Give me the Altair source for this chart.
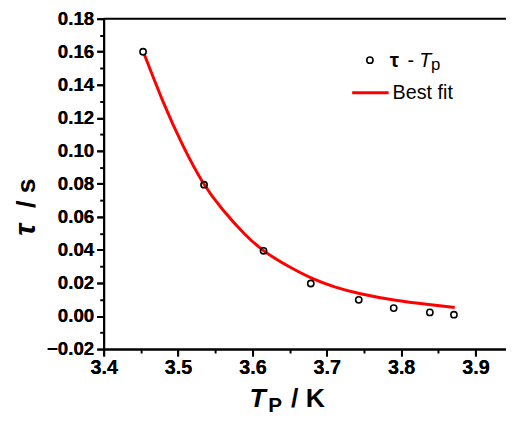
import altair as alt
import pandas as pd

# Data
tp = [3.453, 3.535, 3.615, 3.6785, 3.743, 3.790, 3.8386, 3.871]
tau = [0.160, 0.0795, 0.0395, 0.0197, 0.0098, 0.0048, 0.0022, 0.0008]

fit_x = [3.455, 3.48, 3.505, 3.533, 3.56, 3.59, 3.615, 3.648, 3.68, 3.71, 3.743, 3.79, 3.84, 3.872]
fit_y = [0.158, 0.129, 0.104, 0.080, 0.064, 0.049, 0.039, 0.030, 0.0225, 0.0175, 0.0135, 0.0095, 0.0068, 0.0052]

x_ticks = [3.4, 3.5, 3.6, 3.7, 3.8, 3.9]
x_minor = [3.45, 3.55, 3.65, 3.75, 3.85]
y_ticks = [-0.02, 0.0, 0.02, 0.04, 0.06, 0.08, 0.10, 0.12, 0.14, 0.16, 0.18]
y_minor = [-0.01, 0.01, 0.03, 0.05, 0.07, 0.09, 0.11, 0.13, 0.15, 0.17]

pts = pd.DataFrame({"tp": tp, "tau": tau})
fit = pd.DataFrame({"tp": fit_x, "tau": fit_y})
one = pd.DataFrame({"a": [0]})

FONT = "Liberation Sans"
W, H = 408, 335

xscale = alt.Scale(domain=[3.4, 3.941], nice=False, zero=False)
yscale = alt.Scale(domain=[-0.02, 0.18], nice=False, zero=False)

major_x = alt.Axis(values=x_ticks, format=".1f", orient="bottom", title=None,
                   labelFont=FONT, labelFontSize=20, labelFontWeight="bold",
                   labelColor="black", tickColor="black", tickWidth=2, tickSize=7,
                   domainColor="black", domainWidth=2, labelPadding=2, grid=False,
                   labelFlush=False, labelOverlap=False)
major_y = alt.Axis(values=y_ticks, format=".2f", orient="left", title=None,
                   labelFont=FONT, labelFontSize=19, labelFontWeight="bold",
                   labelColor="black", tickColor="black", tickWidth=2, tickSize=7,
                   domainColor="black", domainWidth=2, labelPadding=3, grid=False,
                   labelFlush=False, labelOverlap=False)
minor_x = alt.Axis(values=x_minor, orient="bottom", labels=False, title=None,
                   tickColor="black", tickWidth=2, tickSize=4, domain=False, grid=False)
minor_y = alt.Axis(values=y_minor, orient="left", labels=False, title=None,
                   tickColor="black", tickWidth=2, tickSize=4, domain=False, grid=False)

line = alt.Chart(fit).mark_line(color="#ff0000", strokeWidth=3, interpolate="basis").encode(
    x=alt.X("tp:Q", scale=xscale, axis=major_x),
    y=alt.Y("tau:Q", scale=yscale, axis=major_y),
)
points = alt.Chart(pts).mark_point(shape="circle", filled=False, color="black",
                                   size=40, strokeWidth=1.6, opacity=1).encode(
    x=alt.X("tp:Q", scale=xscale, axis=major_x),
    y=alt.Y("tau:Q", scale=yscale, axis=major_y),
)
minor = alt.Chart(pts).mark_point(opacity=0).encode(
    x=alt.X("tp:Q", scale=xscale, axis=minor_x),
    y=alt.Y("tau:Q", scale=yscale, axis=minor_y),
)

# top frame line
top = alt.Chart(one).mark_rule(color="black", strokeWidth=2).encode(
    x=alt.value(0), x2=alt.value(W + 5), y=alt.value(0))


def txt(s, x, y, size, weight="bold", style="normal", align="left", angle=0, font=FONT):
    return alt.Chart(one).mark_text(text=s, font=font, fontSize=size, fontWeight=weight,
                                    fontStyle=style, align=align, baseline="alphabetic",
                                    angle=angle, color="black").encode(
        x=alt.value(x), y=alt.value(y))


# x axis title  T_P / K
xt1 = txt("T", 148, 394, 27, style="italic")
xt2 = txt("P", 167, 399, 21)
xt3 = txt("/ K", 190, 394, 27)

# y axis title  τ / s (rotated)
yt1 = txt("τ", -70, 220, 30, style="italic", angle=270)
yt2 = txt("/ s", -70, 192, 27, angle=270)

# legend
leg_sym = alt.Chart(one).mark_point(shape="circle", filled=False, color="black",
                                    size=40, strokeWidth=1.6, opacity=1).encode(
    x=alt.value(270), y=alt.value(42))
leg_t1 = txt("τ", 290, 49, 21)
leg_t2 = txt("-", 308, 49, 20, weight="normal")
leg_t3 = txt("T", 320, 49, 20, weight="normal", style="italic")
leg_t4 = txt("p", 332, 52, 17, weight="normal")
leg_line = alt.Chart(one).mark_rule(color="#ff0000", strokeWidth=3).encode(
    x=alt.value(252), x2=alt.value(289), y=alt.value(75))
leg_t5 = txt("Best fit", 293, 81, 20, weight="normal")

chart = alt.layer(
    minor, line, points, top, xt1, xt2, xt3, yt1, yt2,
    leg_sym, leg_t1, leg_t2, leg_t3, leg_t4, leg_line, leg_t5,
).resolve_axis(x="independent", y="independent").properties(
    width=W, height=H,
    autosize=alt.AutoSizeParams(type="none"),
    padding={"left": 97, "top": 8, "right": 0, "bottom": 64},
).configure_view(stroke=None).configure(background="white")

chart.save("out.html", embed_options={"renderer": "svg", "actions": False})
